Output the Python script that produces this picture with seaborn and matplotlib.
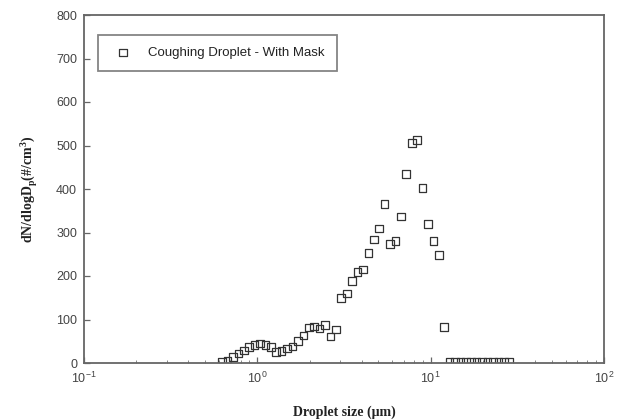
import matplotlib
matplotlib.use("Agg")
import matplotlib.pyplot as plt
import seaborn as sns
import numpy as np
import pandas as pd
from matplotlib.ticker import LogLocator, FixedLocator

# ---- data ----
diameter_um = [0.626, 0.673, 0.723, 0.777, 0.835, 0.898, 0.965, 1.037, 1.114, 1.197,
               1.286, 1.382, 1.486, 1.596, 1.715, 1.843, 1.981, 2.129, 2.288, 2.458,
               2.642, 2.839, 3.051, 3.278, 3.523, 3.786, 4.068, 4.371, 4.698, 5.048,
               5.425, 5.829, 6.264, 6.732, 7.234, 7.774, 8.354, 8.977, 9.647, 10.37,
               11.14, 11.97, 12.86, 13.82, 14.86, 15.96, 17.15, 18.43, 19.81, 21.29,
               22.88, 24.59, 26.43, 28.40]
dN_dlogDp = [2, 5, 14, 22, 29, 37, 42, 45, 41, 37,
             25, 28, 33, 38, 50, 63, 82, 84, 79, 87,
             61, 77, 149, 160, 189, 209, 215, 253, 284, 309,
             365, 273, 280, 337, 435, 506, 512, 402, 320, 281,
             248, 83, 3, 3, 2, 2, 2, 2, 2, 2,
             2, 2, 2, 2]
series_label = "Coughing Droplet - With Mask"
y_ticks = [0, 100, 200, 300, 400, 500, 600, 700, 800]

df = pd.DataFrame({"d": diameter_um, "n": dN_dlogDp})

sns.set_style("ticks")
plt.rcParams["font.family"] = ["Liberation Sans", "DejaVu Sans"]
plt.rcParams["mathtext.fontset"] = "custom"
plt.rcParams["mathtext.rm"] = "Liberation Serif:bold"
plt.rcParams["mathtext.bf"] = "Liberation Serif:bold"

fig = plt.figure(figsize=(6.23, 4.20), dpi=100)
ax = fig.add_axes([84/623, 57/420, 520/623, 348/420])

sns.scatterplot(data=df, x="d", y="n", ax=ax, marker="s", s=30,
                facecolor="none", edgecolor="#333333", linewidth=0.9,
                label=series_label)

ax.set_xscale("log")
ax.set_xlim(0.1, 100)
ax.set_ylim(0, 800)
ax.yaxis.set_major_locator(FixedLocator(y_ticks))
ax.xaxis.set_major_locator(LogLocator(base=10, numticks=10))
ax.xaxis.set_minor_locator(LogLocator(base=10, subs=np.arange(2, 10), numticks=20))

for s in ax.spines.values():
    s.set_visible(True)
    s.set_color("#666666")
    s.set_linewidth(1.3)

ax.tick_params(axis="both", which="major", direction="in", length=4, width=0.9,
               color="#666666", labelsize=9, labelcolor="#444444", pad=5)
ax.tick_params(axis="x", which="minor", direction="in", length=2.5, width=0.7,
               color="#888888")
ax.tick_params(axis="x", which="major", pad=5.5)

ax.set_xlabel("Droplet size (μm)", family="Liberation Serif", weight="bold",
              fontsize=10, color="#222222", labelpad=14)
ax.set_ylabel(r"dN/dlogD$_{\mathrm{p}}$(#/cm$^{\mathrm{3}}$)", family="Liberation Serif",
              weight="bold", fontsize=10, color="#222222", labelpad=12)

leg = ax.legend(loc="upper left", bbox_to_anchor=(0.027, 0.943), fontsize=9.5,
                frameon=True, fancybox=False, borderpad=0.9, handletextpad=0.9,
                borderaxespad=0, markerscale=1.0)
leg.get_frame().set_edgecolor("#666666")
leg.get_frame().set_linewidth(1.3)
for t in leg.get_texts():
    t.set_color("#222222")

fig.savefig("out.png", dpi=100)
